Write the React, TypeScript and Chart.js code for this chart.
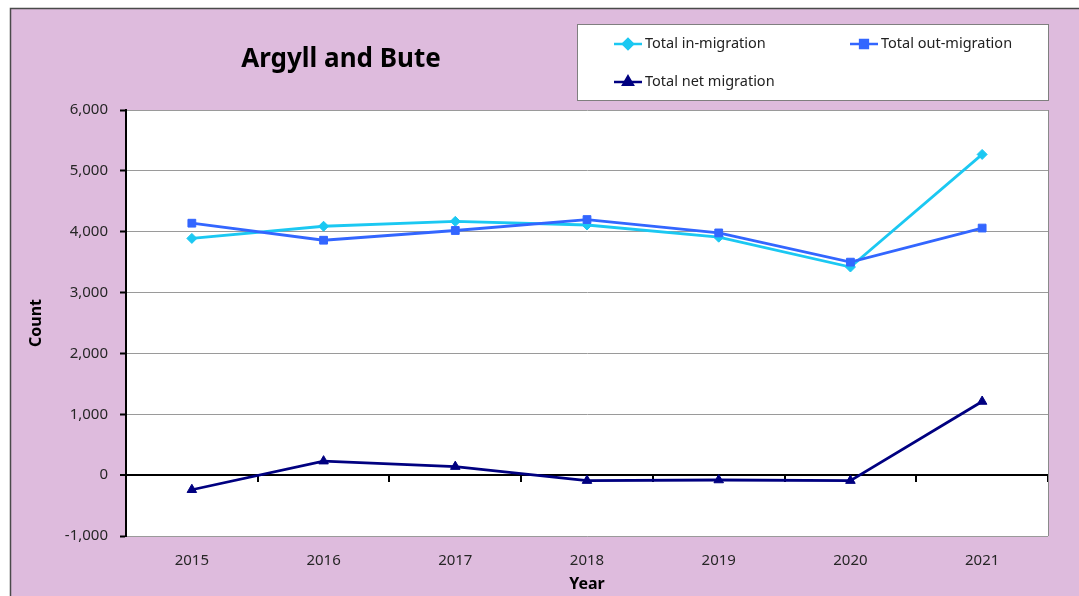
import React, { useEffect, useRef } from 'react';
import { Chart, registerables } from 'chart.js';
import { drawPoint } from 'chart.js/helpers';

Chart.register(...registerables);

const years = ['2015', '2016', '2017', '2018', '2019', '2020', '2021'];
const inMigration = [3890, 4090, 4170, 4110, 3910, 3420, 5270];
const outMigration = [4140, 3860, 4020, 4200, 3980, 3500, 4060];
const netMigration = [-240, 230, 140, -90, -80, -90, 1210];
const yMin = -1000;
const yMax = 6000;
const yStep = 1000;

const FONT = '"Noto Sans", "Open Sans", sans-serif';
const CYAN = '#1BC8F2';
const BLUE = '#3366FF';
const NAVY = '#000080';
const PINK = '#DEBBDD';

const framePlugin = {
  id: 'frame',
  beforeDraw(chart: any) {
    const { ctx, chartArea: a } = chart;
    ctx.save();
    ctx.fillStyle = '#ffffff';
    ctx.fillRect(0, 0, chart.width, chart.height);
    ctx.fillStyle = PINK;
    ctx.fillRect(10, 8, chart.width + 20, chart.height + 20);
    ctx.strokeStyle = '#4a4a4a';
    ctx.lineWidth = 1.5;
    ctx.strokeRect(10.5, 8.5, chart.width + 20, chart.height + 20);
    ctx.fillStyle = '#ffffff';
    ctx.fillRect(a.left, a.top, a.right - a.left, a.bottom - a.top);
    ctx.restore();
  },
  beforeDatasetsDraw(chart: any) {
    const { ctx, chartArea: a } = chart;
    ctx.save();
    ctx.strokeStyle = '#8a8a8a';
    ctx.lineWidth = 1;
    ctx.beginPath();
    ctx.moveTo(a.right + 0.5, a.top);
    ctx.lineTo(a.right + 0.5, a.bottom);
    ctx.stroke();
    ctx.restore();
  },
  afterDraw(chart: any) {
    const { ctx } = chart;
    ctx.save();
    // title
    ctx.fillStyle = '#000';
    ctx.font = `bold 26px ${FONT}`;
    ctx.textAlign = 'center';
    ctx.textBaseline = 'middle';
    ctx.fillText('Argyll and Bute', 341, 60);
    // legend box
    ctx.fillStyle = '#ffffff';
    ctx.fillRect(577.5, 24.5, 471, 76);
    ctx.strokeStyle = '#7f7f7f';
    ctx.lineWidth = 1;
    ctx.strokeRect(577.5, 24.5, 471, 76);
    const spots = [
      [614, 44],
      [850, 44],
      [614, 82],
    ];
    chart.data.datasets.forEach((ds: any, i: number) => {
      const [x, y] = spots[i];
      ctx.strokeStyle = ds.borderColor;
      ctx.lineWidth = 2.5;
      ctx.beginPath();
      ctx.moveTo(x, y);
      ctx.lineTo(x + 28, y);
      ctx.stroke();
      ctx.fillStyle = ds.backgroundColor;
      ctx.strokeStyle = ds.borderColor;
      drawPoint(ctx, { pointStyle: ds.pointStyle, radius: ds.pointRadius, borderWidth: 1, rotation: 0 } as any, x + 14, y);
      ctx.fillStyle = '#222';
      ctx.font = `14.5px ${FONT}`;
      ctx.textAlign = 'left';
      ctx.textBaseline = 'middle';
      ctx.fillText(ds.label, x + 31, y);
    });
    ctx.restore();
  },
};

export default function App() {
  const ref = useRef<HTMLCanvasElement>(null);
  useEffect(() => {
    if (!ref.current) return;
    const chart = new Chart(ref.current, {
      type: 'line',
      data: {
        labels: years,
        datasets: [
          {
            label: 'Total in-migration',
            data: inMigration,
            borderColor: CYAN,
            backgroundColor: CYAN,
            pointStyle: 'rectRot',
            pointRadius: 5,
            pointBorderWidth: 1,
            borderWidth: 2.8,
            order: 3,
            xAxisID: 'x',
            yAxisID: 'y',
          },
          {
            label: 'Total out-migration',
            data: outMigration,
            borderColor: BLUE,
            backgroundColor: BLUE,
            pointStyle: 'rect',
            pointRadius: 5.5,
            pointBorderWidth: 1,
            borderWidth: 2.8,
            order: 2,
            xAxisID: 'x',
            yAxisID: 'y',
          },
          {
            label: 'Total net migration',
            data: netMigration,
            borderColor: NAVY,
            backgroundColor: NAVY,
            pointStyle: 'triangle',
            pointRadius: 5.5,
            pointBorderWidth: 1,
            borderWidth: 2.8,
            order: 1,
            xAxisID: 'x',
            yAxisID: 'y',
          },
        ],
      },
      options: {
        responsive: false,
        animation: false,
        layout: { padding: { top: 110, right: 31, bottom: 0, left: 0 } },
        plugins: {
          legend: { display: false },
          title: { display: false },
          tooltip: { enabled: false },
        },
        elements: { line: { tension: 0 } },
        scales: {
          x: {
            type: 'category',
            position: 'bottom',
            offset: true,
            grid: { display: false, drawTicks: false },
            border: { display: false },
            ticks: { color: '#262626', font: { family: FONT, size: 15 }, padding: 16, maxRotation: 0 },
            title: {
              display: true,
              text: 'Year',
              color: '#000',
              font: { family: FONT, size: 16, weight: 'bold' },
              padding: { top: 0, bottom: 2 },
            },
            afterFit: (s: any) => {
              s.height = 60;
            },
          },
          x2: {
            type: 'category',
            position: { y: 0 } as any,
            offset: true,
            grid: { drawOnChartArea: false, offset: true, color: '#000', tickLength: 6, lineWidth: 2 },
            border: { color: '#000', width: 2 },
            ticks: { display: false },
          },
          y: {
            type: 'linear',
            position: 'left',
            min: yMin,
            max: yMax,
            ticks: {
              stepSize: yStep,
              color: '#262626',
              font: { family: FONT, size: 15 },
              padding: 12,
              callback: (v: any) => Number(v).toLocaleString('en-US'),
            },
            grid: {
              color: (c: any) => (c.tick && c.tick.value === 0 ? '#000' : '#9a9a9a'),
              lineWidth: (c: any) => (c.tick && c.tick.value === 0 ? 2 : 1),
              tickColor: '#000',
              tickLength: 6,
              tickWidth: 2,
            },
            border: { color: '#000', width: 2 },
            title: {
              display: true,
              text: 'Count',
              color: '#000',
              font: { family: FONT, size: 16, weight: 'bold' },
              padding: { top: 27, bottom: 0 },
            },
            afterFit: (s: any) => {
              s.width = 126;
            },
          },
        },
      },
      plugins: [framePlugin],
    });
    return () => chart.destroy();
  }, []);
  return (
    <div style={{ position: 'fixed', left: 0, top: 0, width: 1079, height: 596 }}>
      <canvas ref={ref} width={1079} height={596} style={{ display: 'block', width: 1079, height: 596 }} />
    </div>
  );
}
